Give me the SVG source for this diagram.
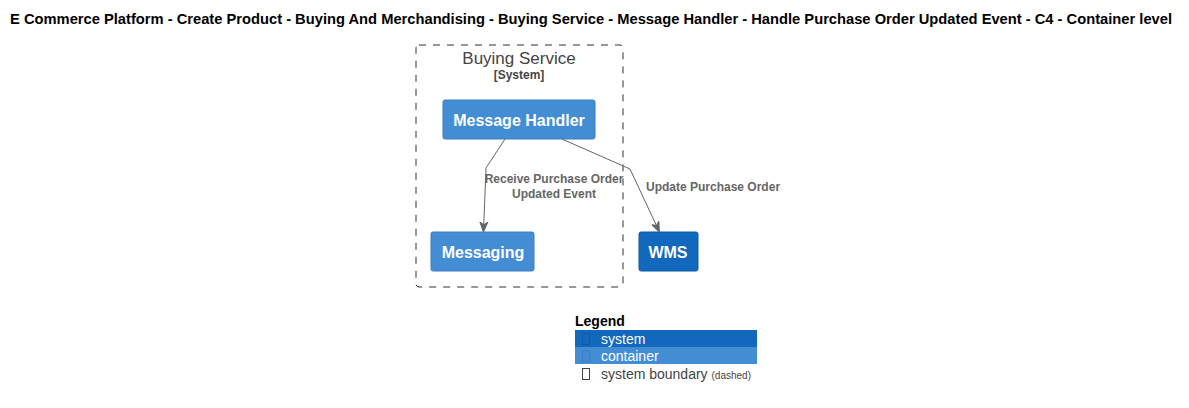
<svg xmlns="http://www.w3.org/2000/svg" width="1189" height="408" viewBox="0 0 1189 408">
<style>
text{font-family:"Liberation Sans",Arial,sans-serif}
.title{font-size:14px;font-weight:bold;fill:#000}
.node text{font-size:16px;font-weight:bold;fill:#fff;text-anchor:middle}
.cont{fill:#438DD5;stroke:#3C7FC0;stroke-width:1}
.sys{fill:#1168BD;stroke:#0E5AA7;stroke-width:1}
.edge{fill:none;stroke:#666;stroke-width:1}
.elabel{font-size:12px;font-weight:bold;fill:#666}
.leg{font-size:14px}
</style>
<defs>
<marker id="arr" viewBox="0 0 10 10" refX="9" refY="5" markerWidth="10" markerHeight="10" markerUnits="userSpaceOnUse" orient="auto">
<path d="M0,1 L10,5 L0,9 L3,5 Z" fill="#666" stroke="#666"/>
</marker>
</defs>
<rect width="1189" height="408" fill="#fff"/>
<text class="title" x="10" y="24" textLength="1162" lengthAdjust="spacingAndGlyphs">E Commerce Platform - Create Product - Buying And Merchandising - Buying Service - Message Handler - Handle Purchase Order Updated Event - C4 - Container level</text>

<g id="boundary-buying-service">
<rect x="416" y="45" width="207" height="242" rx="3" fill="none" stroke="#333" stroke-width="1" stroke-dasharray="7,7"/>
<text x="519" y="64" text-anchor="middle" style="font-size:17px;fill:#444">Buying Service</text>
<text x="519" y="79" text-anchor="middle" style="font-size:12px;font-weight:bold;fill:#444">[System]</text>
</g>

<g id="node-message-handler" class="node">
<rect class="cont" x="443" y="100" width="152" height="39" rx="2"/>
<text x="519" y="126">Message Handler</text>
</g>

<g id="node-messaging" class="node">
<rect class="cont" x="431" y="232" width="103" height="39" rx="2"/>
<text x="483" y="258">Messaging</text>
</g>

<g id="node-wms" class="node">
<rect class="sys" x="639" y="232" width="59" height="39" rx="2"/>
<text x="668" y="258">WMS</text>
</g>

<g id="connectors">
<path class="edge" d="M505,139 L486,168 L483.5,231" marker-end="url(#arr)"/>
<text class="elabel" x="554" y="183" text-anchor="middle">Receive Purchase Order</text>
<text class="elabel" x="554" y="198" text-anchor="middle">Updated Event</text>
<path class="edge" d="M562,139 L630,169 L659,231" marker-end="url(#arr)"/>
<text class="elabel" x="646" y="191">Update Purchase Order</text>
</g>

<g id="legend">
<text x="575" y="326" style="font-size:14px;font-weight:bold;fill:#000">Legend</text>
<rect x="575" y="330" width="182" height="17" fill="#1168BD"/>
<rect x="582.5" y="333.5" width="7" height="11" fill="none" stroke="#0E5AA7"/>
<text class="leg" x="601" y="344" fill="#fff">system</text>
<rect x="575" y="347" width="182" height="17" fill="#438DD5"/>
<rect x="582.5" y="350.5" width="7" height="11" fill="none" stroke="#3C7FC0"/>
<text class="leg" x="601" y="361" fill="#fff">container</text>
<rect x="582.5" y="368.5" width="7" height="11" fill="none" stroke="#444"/>
<text class="leg" x="601" y="379" fill="#444">system boundary <tspan style="font-size:10px">(dashed)</tspan></text>
</g>
</svg>
